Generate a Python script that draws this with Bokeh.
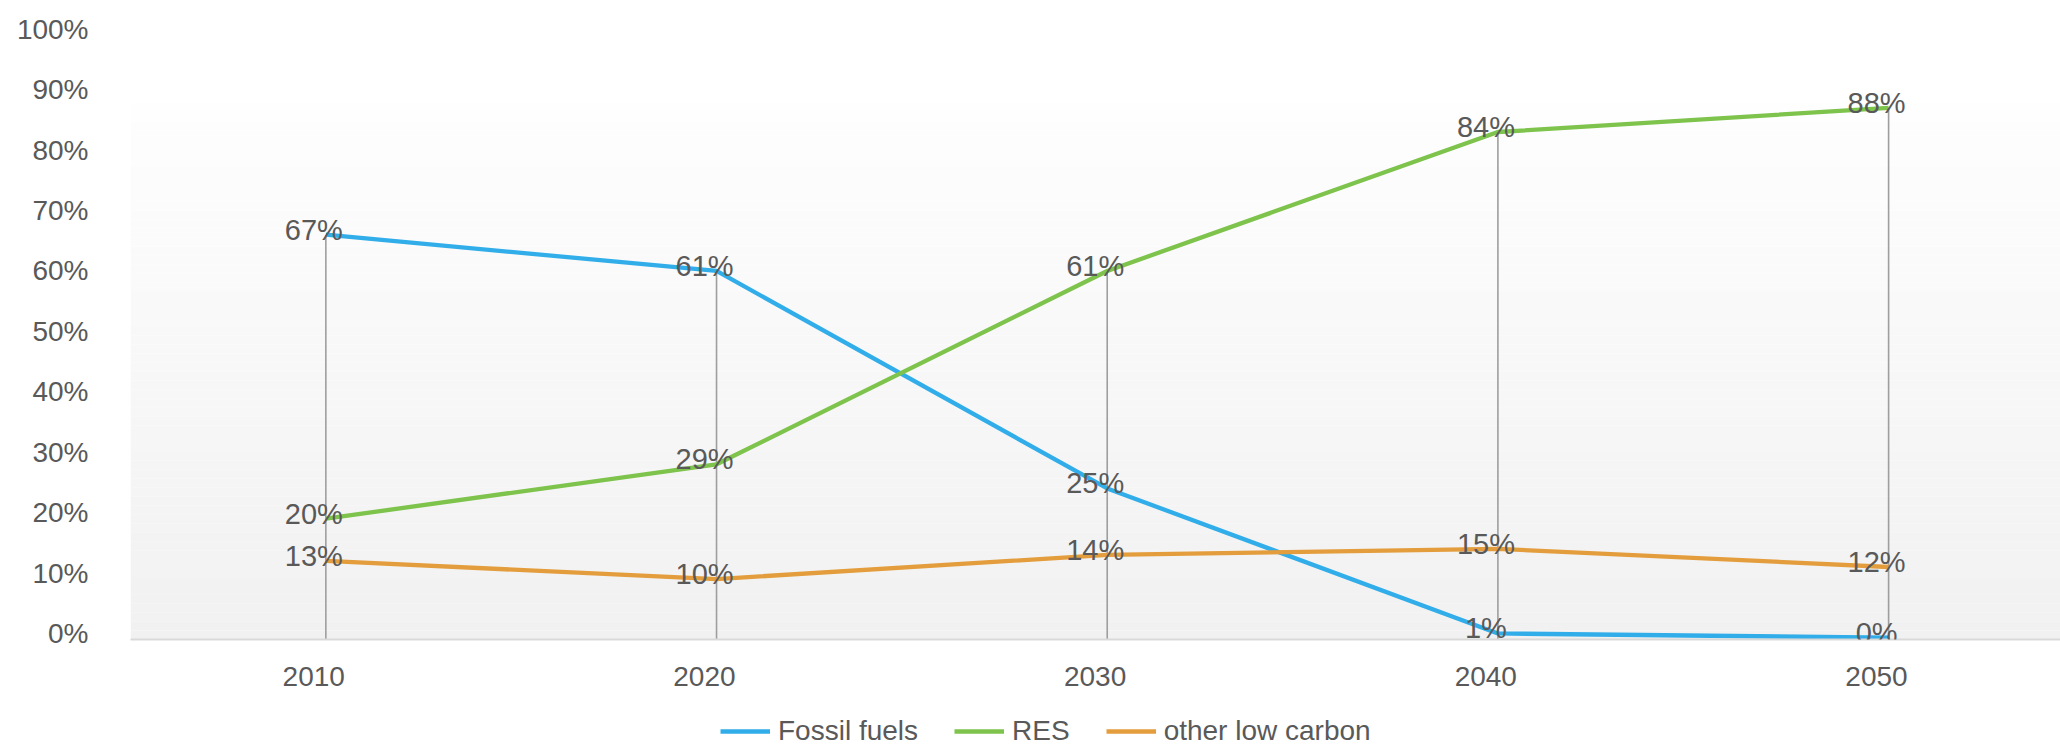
from bokeh.plotting import figure
from bokeh.layouts import column
from bokeh.models import (ColumnDataSource, LabelSet, Legend, LegendItem, BoxAnnotation,
                          FixedTicker, CustomJSTickFormatter, Range1d)
from bokeh.core.properties import value
from bokeh.embed import file_html
from bokeh.resources import INLINE

# ---- data ----
years = [2010, 2020, 2030, 2040, 2050]
fossil = [67, 61, 25, 1, 0.3]
res = [20, 29, 61, 84, 88]
other = [13, 10, 14, 15, 12]
series_names = ["Fossil fuels", "RES", "other low carbon"]
series_values = [fossil, res, other]
series_colors = ["#31ADE9", "#7DC34C", "#E49D3C"]
y_tick_values = [0, 10, 20, 30, 40, 50, 60, 70, 80, 90, 100]

FONT = "Liberation Sans"
TEXT_COLOR = "#595959"
LINE_W = 4.3

p = figure(width=2060, height=700, output_backend="svg", toolbar_location=None,
           x_range=Range1d(2005, 2054.4), y_range=Range1d(0, 101.3),
           min_border_left=130, min_border_right=0, min_border_top=27, min_border_bottom=61)
p.outline_line_color = None
p.background_fill_color = "white"
p.border_fill_color = "white"
p.xgrid.visible = False
p.ygrid.visible = False

# gradient plot-area background (white at top to light grey at bottom)
grad_top = 88.7
n = 60
for i in range(n):
    b = grad_top * i / n
    t = grad_top * (i + 1) / n
    frac = (i + 0.5) / n
    c = int(round(241 + (254 - 241) * frac))
    p.add_layout(BoxAnnotation(bottom=b, top=t, fill_color=(c, c, c), fill_alpha=1.0,
                               line_color=None, level="underlay"))

# drop lines from the highest value of each category
tops = [max(v) for v in zip(*series_values)]
p.segment(x0=years, y0=[0] * len(years), x1=years, y1=tops, line_color="#9E9E9E", line_width=1.6)

for vals, col in zip(series_values, series_colors):
    p.line(years, vals, line_color=col, line_width=LINE_W)

for vals in series_values:
    src = ColumnDataSource(dict(x=years, y=vals, t=["%d%%" % round(v) for v in vals]))
    p.add_layout(LabelSet(x="x", y="y", text="t", source=src, x_offset=-12, y_offset=5,
                          text_align="center", text_baseline="middle",
                          text_font=value(FONT), text_font_size=value("29px"),
                          text_color=TEXT_COLOR))

# axes
p.yaxis.ticker = FixedTicker(ticks=[v + 1.0 for v in y_tick_values])
p.yaxis.formatter = CustomJSTickFormatter(code="return Math.round(tick - 1.0) + '%';")
p.yaxis.axis_line_color = None
p.yaxis.major_tick_line_color = None
p.yaxis.minor_tick_line_color = None
p.yaxis.major_tick_out = 0
p.yaxis.major_tick_in = 0
p.yaxis.major_label_standoff = 42
p.yaxis.major_label_text_font = FONT
p.yaxis.major_label_text_font_size = "28px"
p.yaxis.major_label_text_color = TEXT_COLOR

p.xaxis.ticker = FixedTicker(ticks=[y - 0.31 for y in years])
p.xaxis.formatter = CustomJSTickFormatter(code="return String(Math.round(tick));")
p.xaxis.axis_line_color = "#D9D9D9"
p.xaxis.axis_line_width = 2
p.xaxis.major_tick_line_color = None
p.xaxis.minor_tick_line_color = None
p.xaxis.major_tick_out = 0
p.xaxis.major_tick_in = 0
p.xaxis.major_label_standoff = 27
p.xaxis.major_label_text_font = FONT
p.xaxis.major_label_text_font_size = "28px"
p.xaxis.major_label_text_color = TEXT_COLOR

# ---- legend strip below the chart (series drawn out of view, legend only) ----
lg = figure(width=2060, height=48, output_backend="svg", toolbar_location=None,
            x_axis_type=None, y_axis_type=None, x_range=Range1d(0, 1), y_range=Range1d(0, 1),
            min_border=0)
lg.outline_line_color = None
lg.background_fill_color = "white"
lg.border_fill_color = "white"
lg.xgrid.visible = False
lg.ygrid.visible = False
items = []
for name, vals, col in zip(series_names, series_values, series_colors):
    r = lg.line(x=years, y=vals, line_color=col, line_width=LINE_W)
    items.append(LegendItem(label=name, renderers=[r]))

legend = Legend(items=items, orientation="horizontal", location=(590, 1),
                glyph_width=50, glyph_height=28, label_height=28, label_standoff=8,
                spacing=36, padding=0, margin=0,
                background_fill_alpha=0, border_line_alpha=0,
                label_text_font=FONT, label_text_font_size="28px", label_text_color=TEXT_COLOR)
lg.add_layout(legend, "center")

layout = column(p, lg, spacing=0)
open("out.html", "w").write(file_html(layout, INLINE))
